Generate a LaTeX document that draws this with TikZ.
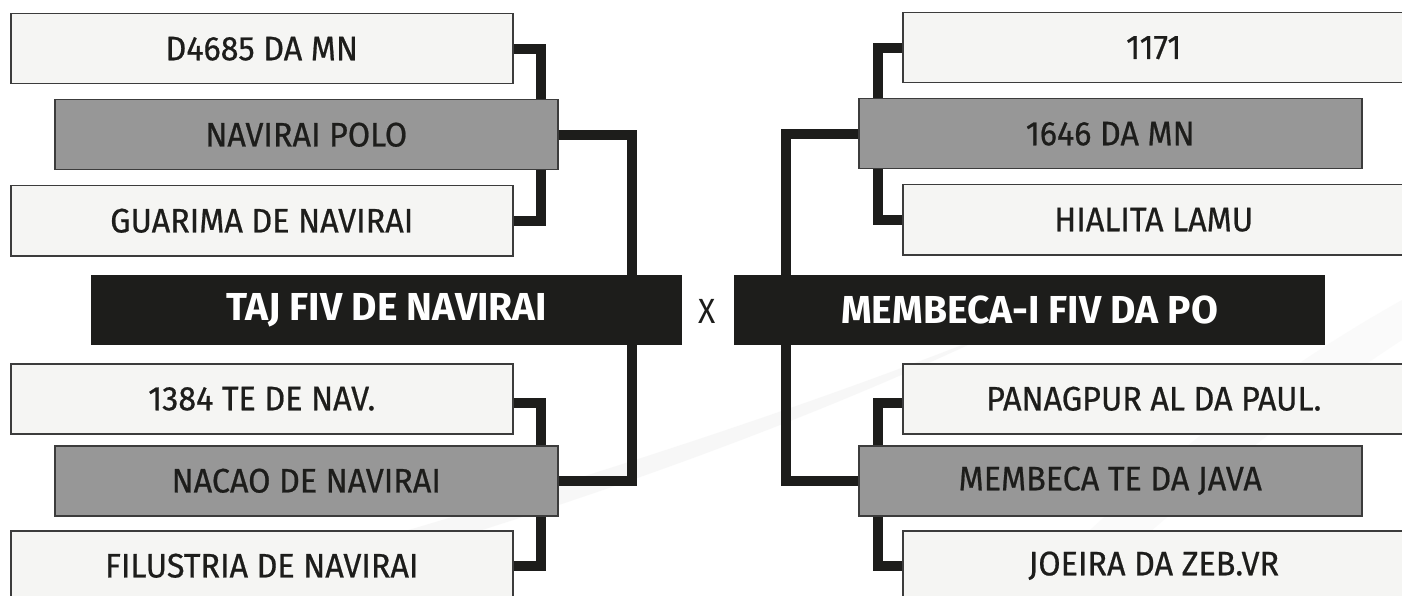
\documentclass[tikz,border=0pt]{standalone}
\usepackage{fontspec}
\setmainfont{Fira Sans}[FakeStretch=0.91]
\newfontfamily\labelfont{Fira Sans}[FakeStretch=0.95, FakeBold=0.6]
\newfontfamily\titlefont{Fira Sans Bold}[FakeStretch=1.0]
\definecolor{ink}{HTML}{1D1D1B}
\definecolor{edge}{HTML}{3C3C3C}
\definecolor{lightfill}{HTML}{F5F5F3}
\definecolor{midfill}{HTML}{979797}
\definecolor{streak}{HTML}{F3F3F3}
\tikzset{
  boxbase/.style={rectangle, inner sep=0pt, anchor=north west, draw=edge, line width=1.5pt, text=ink, font=\labelfont\fontsize{34}{36}\selectfont},
  lightbox/.style={boxbase, fill=lightfill, minimum width=502pt, minimum height=70pt},
  midbox/.style={boxbase, fill=midfill, minimum width=503pt, minimum height=70pt},
  finalbox/.style={rectangle, inner sep=0pt, anchor=north west, fill=ink, text=white, minimum width=591pt, minimum height=70pt, font=\titlefont\fontsize{39}{42}\selectfont},
  conn/.style={draw=ink, line width=10pt, line join=miter},
}
\begin{document}
\begin{tikzpicture}[x=1pt,y=-1pt]
\useasboundingbox (0,0) rectangle (1402,596);
\fill[white] (0,0) rectangle (1402,596);
% faint background streaks
\fill[streak, opacity=0.6] (180,596) .. controls (450,520) and (750,430) .. (1000,330) .. controls (760,445) and (480,535) .. (260,596) -- cycle;
\fill[streak, opacity=0.4] (1020,596) .. controls (1150,470) and (1260,380) .. (1402,300) -- (1402,340) .. controls (1280,420) and (1170,510) .. (1080,596) -- cycle;

% left side
\node[lightbox] (l1) at (10,13) {D4685 DA MN};
\node[midbox]   (l2) at (54,99) {NAVIRAI POLO};
\node[lightbox] (l3) at (10,185) {GUARIMA DE NAVIRAI};
\node[finalbox] (lf) at (91,275) {TAJ FIV DE NAVIRAI};
\node[lightbox] (l4) at (10,363) {1384 TE DE NAV.};
\node[midbox]   (l5) at (54,445) {NACAO DE NAVIRAI};
\node[lightbox] (l6) at (10,530) {FILUSTRIA DE NAVIRAI};

% right side
\node[lightbox] (r1) at (902,12) {1171};
\node[midbox]   (r2) at (858,98) {1646 DA MN};
\node[lightbox] (r3) at (902,184) {HIALITA LAMU};
\node[finalbox] (rf) at (734,275) {MEMBECA-I FIV DA PO};
\node[lightbox] (r4) at (902,363) {PANAGPUR AL DA PAUL.};
\node[midbox]   (r5) at (858,445) {MEMBECA TE DA JAVA};
\node[lightbox] (r6) at (902,530) {JOEIRA DA ZEB.VR};

\node[text=ink, font=\fontsize{35}{37}\selectfont] (vs) at (707.5,311) {X};

% left connectors
\draw[conn] (l1.east) -| ([xshift=-18pt]l2.north east);
\draw[conn] (l3.east) -| ([xshift=-18pt]l2.south east);
\draw[conn] (l2.east) -| ([xshift=-50pt]lf.north east);
\draw[conn] ([xshift=-50pt]lf.south east) |- (l5.east);
\draw[conn] ([yshift=-4pt]l4.east) -| ([xshift=-18pt]l5.north east);
\draw[conn] (l6.east) -| ([xshift=-18pt]l5.south east);

% right connectors
\draw[conn] (r1.west) -| ([xshift=20pt]r2.north west);
\draw[conn] (r3.west) -| ([xshift=20pt]r2.south west);
\draw[conn] (r2.west) -| ([xshift=52pt]rf.north west);
\draw[conn] ([xshift=52pt]rf.south west) |- (r5.west);
\draw[conn] ([yshift=-4pt]r4.west) -| ([xshift=20pt]r5.north west);
\draw[conn] (r6.west) -| ([xshift=20pt]r5.south west);
\end{tikzpicture}
\end{document}
